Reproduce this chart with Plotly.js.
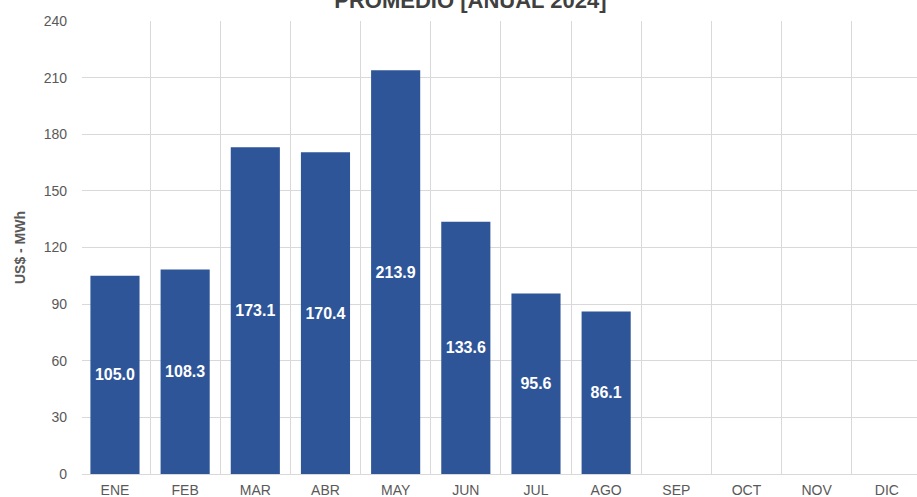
<!DOCTYPE html>
<html><head><meta charset="utf-8">
<script src="https://cdn.plot.ly/plotly-3.0.1.min.js"></script>
<style>html,body{margin:0;padding:0;background:#fff;}#chart{width:917px;height:497px;}</style>
</head><body><div id="chart"></div>
<script>
const months = ["ENE","FEB","MAR","ABR","MAY","JUN","JUL","AGO","SEP","OCT","NOV","DIC"];
const barMonths = ["ENE","FEB","MAR","ABR","MAY","JUN","JUL","AGO"];
const values = [105.0,108.3,173.1,170.4,213.9,133.6,95.6,86.1];
const yTicks = [0,30,60,90,120,150,180,210,240];

const trace = {
  type: "bar",
  x: barMonths,
  y: values,
  width: 0.7,
  marker: {color: "#2E5597"},
  text: values.map(v => v.toFixed(1)),
  textposition: "inside",
  insidetextanchor: "middle",
  textangle: 0,
  textfont: {family: "Liberation Sans, Arial, sans-serif", size: 16, color: "#ffffff", weight: "bold"},
  hoverinfo: "none"
};

const layout = {
  width: 917, height: 497,
  margin: {l: 82, r: 0, t: 21, b: 23},
  paper_bgcolor: "#ffffff", plot_bgcolor: "#ffffff",
  title: {text: "<b>PROMEDIO [ANUAL 2024]</b>", font: {family: "Liberation Sans, Arial, sans-serif", size: 22, color: "#404040"},
          x: 0.513, xanchor: "center", yref: "container", y: 1.0, yanchor: "middle"},
  showlegend: false,
  xaxis: {
    type: "category",
    categoryorder: "array", categoryarray: months,
    range: [-0.47, 11.43],
    tickson: "boundaries",
    showgrid: true, gridcolor: "#d9d9d9", gridwidth: 1,
    showline: false, zeroline: false,
    ticks: "",
    ticklabelstandoff: 6,
    tickfont: {family: "Liberation Sans Narrow, Arial Narrow, Liberation Sans, sans-serif", size: 14, color: "#595959"},
    fixedrange: true
  },
  yaxis: {
    range: [0, 240],
    tickvals: yTicks,
    ticktext: yTicks.map(String),
    showgrid: true, gridcolor: "#d9d9d9", gridwidth: 1,
    zeroline: true, zerolinecolor: "#d9d9d9", zerolinewidth: 1,
    showline: false,
    ticks: "",
    ticklabelstandoff: 14,
    tickfont: {family: "Liberation Sans, Arial, sans-serif", size: 14, color: "#595959"},
    title: {text: "<b>US$ - MWh</b>", font: {family: "Liberation Sans, Arial, sans-serif", size: 14, color: "#595959"}, standoff: 14},
    fixedrange: true
  }
};

Plotly.newPlot("chart", [trace], layout, {displayModeBar: false, staticPlot: true});
</script>
</body></html>
